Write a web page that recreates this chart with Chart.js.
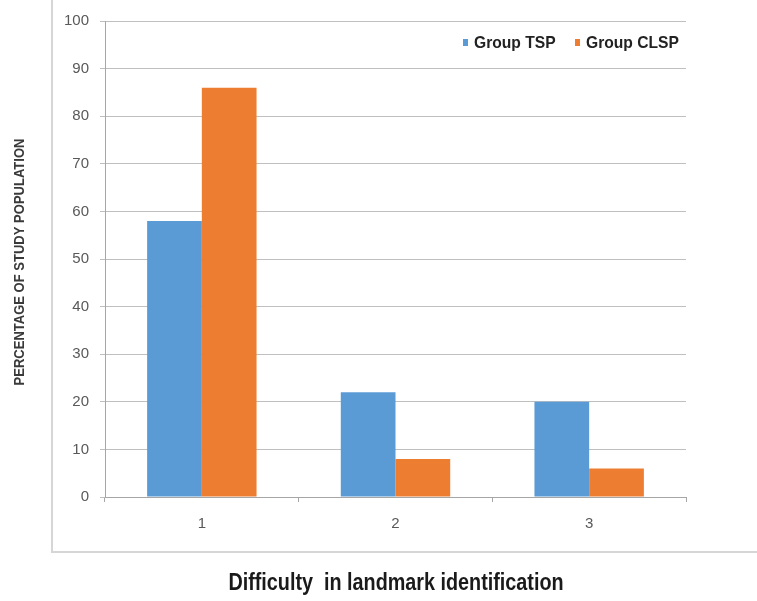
<!DOCTYPE html>
<html>
<head>
<meta charset="utf-8">
<script src="https://cdn.jsdelivr.net/npm/chart.js@4/dist/chart.umd.min.js"></script>
<style>
  html, body { margin: 0; padding: 0; background: #ffffff; }
  #wrap { position: relative; width: 757px; height: 601px; }
</style>
</head>
<body>
<div id="wrap"><canvas id="chart" width="757" height="601"></canvas></div>
<script>
// Difficulty rating categories and the share of each group (percent)
const categories = ['1', '2', '3'];
const groupTSP = [58, 22, 20];
const groupCLSP = [86, 8, 6];
const yTicks = [0, 10, 20, 30, 40, 50, 60, 70, 80, 90, 100];
const seriesNames = ['Group TSP', 'Group CLSP'];

const FONT = "'Liberation Sans', Arial, sans-serif";

// Draws text squeezed horizontally to imitate a condensed face
function condensedText(ctx, text, x, y, squeeze, align) {
  ctx.save();
  ctx.translate(x, y);
  ctx.scale(squeeze, 1);
  ctx.textAlign = align;
  ctx.fillText(text, 0, 0);
  ctx.restore();
}

// Frame lines, axis titles and the in-plot legend
const decorations = {
  id: 'decorations',
  afterDraw(chart) {
    const ctx = chart.ctx;
    ctx.save();
    // light frame on the left and bottom
    ctx.strokeStyle = '#d6d6d6';
    ctx.lineWidth = 2;
    ctx.beginPath();
    ctx.moveTo(52, 0);
    ctx.lineTo(52, 552);
    ctx.lineTo(757, 552);
    ctx.stroke();

    // vertical axis title
    ctx.fillStyle = '#3a3a3a';
    ctx.font = "bold 14px " + FONT;
    ctx.textBaseline = 'middle';
    ctx.translate(20, 262);
    ctx.rotate(-Math.PI / 2);
    condensedText(ctx, 'PERCENTAGE OF STUDY POPULATION', 0, 0, 0.93, 'center');
    ctx.restore();

    ctx.save();
    // horizontal axis title
    ctx.fillStyle = '#1a1a1a';
    ctx.font = "bold 23px " + FONT;
    ctx.textBaseline = 'middle';
    condensedText(ctx, 'Difficulty  in landmark identification', 396, 584, 0.86, 'center');

    // legend
    ctx.font = "bold 17px " + FONT;
    ctx.textBaseline = 'middle';
    const items = chart.data.datasets;
    const xs = [463, 575];
    items.forEach((ds, i) => {
      ctx.fillStyle = ds.backgroundColor;
      ctx.fillRect(xs[i], 39, 5, 7);
      ctx.fillStyle = '#222222';
      condensedText(ctx, ds.label, xs[i] + 11, 43, 0.92, 'left');
    });
    ctx.restore();
  }
};

new Chart(document.getElementById('chart'), {
  type: 'bar',
  data: {
    labels: categories,
    datasets: [
      { label: seriesNames[0], data: groupTSP, backgroundColor: '#5b9bd5' },
      { label: seriesNames[1], data: groupCLSP, backgroundColor: '#ed7d31' }
    ]
  },
  options: {
    responsive: false,
    animation: false,
    devicePixelRatio: 1,
    layout: { padding: { top: 21, right: 71, bottom: 0, left: 0 } },
    datasets: {
      bar: { barPercentage: 1.0, categoryPercentage: 0.565 }
    },
    plugins: {
      legend: { display: false },
      tooltip: { enabled: false }
    },
    scales: {
      x: {
        grid: {
          offset: true,
          drawOnChartArea: false,
          drawTicks: true,
          tickLength: 5,
          color: '#a6a6a6'
        },
        border: { color: '#a6a6a6', width: 1 },
        ticks: {
          color: '#595959',
          font: { family: FONT, size: 15 },
          padding: 13
        },
        afterFit(scale) { scale.height = 104; }
      },
      y: {
        min: 0,
        max: 100,
        afterBuildTicks(scale) { scale.ticks = yTicks.map(v => ({ value: v })); },
        grid: {
          color: '#bfbfbf',
          tickLength: 5,
          drawTicks: true
        },
        border: { color: '#a6a6a6', width: 1 },
        ticks: {
          color: '#595959',
          font: { family: FONT, size: 15 },
          padding: 11
        },
        afterFit(scale) { scale.width = 105; }
      }
    }
  },
  plugins: [decorations]
});
</script>
</body>
</html>
